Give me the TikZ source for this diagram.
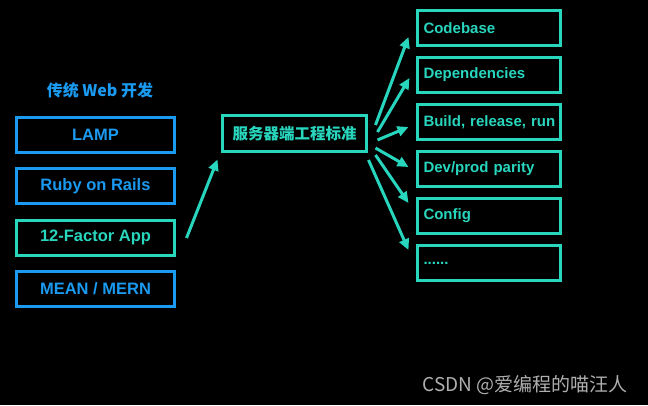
\documentclass[tikz,border=0pt]{standalone}
\usepackage{fontspec}
\setmainfont{Liberation Sans}
\newfontfamily\cjk{Noto Sans CJK SC}
\usetikzlibrary{arrows.meta}
\definecolor{teal1}{RGB}{40,214,190}
\definecolor{blue1}{RGB}{26,154,240}
\definecolor{wm}{RGB}{175,175,175}
\tikzset{
  leftbox/.style={draw=blue1,line width=3pt,minimum width=158pt,minimum height=35pt,inner sep=0pt,text=blue1,font=\fontsize{16.5}{18}\selectfont\bfseries},
  leftteal/.style={leftbox,draw=teal1,text=teal1},
  rightbox/.style={draw=teal1,line width=3pt,text width=131pt,inner xsep=6pt,inner ysep=0pt,minimum height=35pt,align=left,text=teal1,font=\fontsize{15}{17}\selectfont\bfseries},
  midbox/.style={draw=teal1,line width=3pt,minimum width=144pt,minimum height=36pt,inner sep=0pt,text=teal1,font=\cjk\fontsize{15.5}{17}\selectfont\bfseries},
  conn/.style={draw=teal1,line width=3pt,-{Triangle[length=11pt,width=10pt]}}
}
\begin{document}
\begin{tikzpicture}[x=1pt,y=1pt]
\useasboundingbox[fill=black] (0,0) rectangle (648,405);
\node[text=blue1,font=\cjk\fontsize{16}{18}\selectfont\bfseries] (title) at (100,315) {传统 Web 开发};
\node[leftbox] (lamp) at (95.5,270) {LAMP};
\node[leftbox] (ruby) at (95.5,219) {Ruby on Rails};
\node[leftteal] (tf) at (95.5,167.5) {12-Factor App};
\node[leftbox] (mean) at (95.5,116.5) {MEAN / MERN};
\node[midbox] (mid) at (294.5,271.5) {服务器端工程标准};
\node[rightbox] (r1) at (489,376.5) {Codebase};
\node[rightbox] (r2) at (489,330) {Dependencies};
\node[rightbox] (r3) at (489,283) {\mbox{Build, release, run}};
\node[rightbox] (r4) at (489,236) {Dev/prod parity};
\node[rightbox] (r5) at (489,189) {Config};
\node[rightbox] (r6) at (489,142) {......};
\draw[conn] ([shift={(10.5,-0.5)}]tf.east) -- ([shift={(-3.5,-6.5)}]mid.south west);
\draw[conn] ([shift={(7.5,8.5)}]mid.east) -- ([shift={(-7.5,-8.5)}]r1.west);
\draw[conn] ([shift={(9.5,1.5)}]mid.east) -- ([shift={(-6.5,-3)}]r2.west);
\draw[conn] ([shift={(9.5,-6.5)}]mid.east) -- ([shift={(-7.5,-5)}]r3.west);
\draw[conn] ([shift={(7.5,-14.5)}]mid.east) -- ([shift={(-7.5,2)}]r4.west);
\draw[conn] ([shift={(7.5,-21.5)}]mid.east) -- ([shift={(-7.5,13)}]r5.west);
\draw[conn] ([shift={(0.5,-26.5)}]mid.east) -- ([shift={(-7.5,13)}]r6.west);
\node[text=wm,font=\cjk\fontsize{19}{21}\selectfont,anchor=west] (wmk) at (419,20) {CSDN @爱编程的喵汪人};
\end{tikzpicture}
\end{document}
